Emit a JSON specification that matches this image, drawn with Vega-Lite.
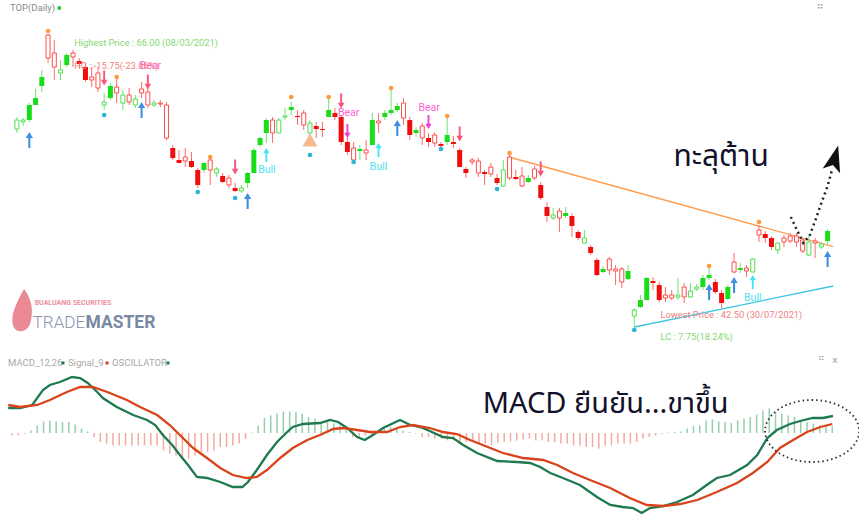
{
"$schema": "https://vega.github.io/schema/vega-lite/v6.json",
"padding": 0,
"spacing": 0,
"background": "white",
"config": {"view": {"stroke": null}, "axis": {"disable": true}},
"datasets": {
"candles": [
{"i":0,"h":59.36,"l":58.08,"t":59.12,"b":58.40,"d":"u","f":0},
{"i":1,"h":59.28,"l":58.64,"t":59.12,"b":58.96,"d":"u","f":0},
{"i":2,"h":60.48,"l":58.96,"t":60.32,"b":59.12,"d":"u","f":1},
{"i":3,"h":61.60,"l":60.32,"t":60.88,"b":60.32,"d":"u","f":1},
{"i":4,"h":63.12,"l":61.36,"t":62.56,"b":61.84,"d":"u","f":1},
{"i":5,"h":66.00,"l":63.68,"t":65.92,"b":64.08,"d":"d","f":0},
{"i":6,"h":65.52,"l":62.32,"t":64.48,"b":63.36,"d":"d","f":0},
{"i":7,"h":63.92,"l":62.32,"t":63.12,"b":62.88,"d":"u","f":0},
{"i":8,"h":64.48,"l":63.36,"t":64.32,"b":63.52,"d":"u","f":1},
{"i":9,"h":64.72,"l":63.36,"t":64.48,"b":64.16,"d":"d","f":0},
{"i":10,"h":64.08,"l":63.28,"t":63.84,"b":63.60,"d":"d","f":1},
{"i":11,"h":63.68,"l":62.16,"t":63.36,"b":62.32,"d":"d","f":1},
{"i":12,"h":63.36,"l":61.76,"t":62.56,"b":62.32,"d":"d","f":0},
{"i":13,"h":63.36,"l":61.36,"t":62.88,"b":61.68,"d":"d","f":0},
{"i":14,"h":61.28,"l":59.92,"t":60.56,"b":60.32,"d":"u","f":0},
{"i":15,"h":62.08,"l":60.72,"t":61.84,"b":60.88,"d":"u","f":1},
{"i":16,"h":62.72,"l":60.48,"t":61.76,"b":61.28,"d":"d","f":0},
{"i":17,"h":61.52,"l":59.92,"t":61.12,"b":60.48,"d":"u","f":0},
{"i":18,"h":61.68,"l":60.32,"t":61.12,"b":60.56,"d":"d","f":0},
{"i":19,"h":61.12,"l":60.08,"t":60.80,"b":60.32,"d":"u","f":0},
{"i":20,"h":62.16,"l":60.88,"t":61.60,"b":61.28,"d":"d","f":0},
{"i":21,"h":61.68,"l":60.08,"t":61.36,"b":60.32,"d":"d","f":0},
{"i":22,"h":60.72,"l":60.16,"t":60.48,"b":60.32,"d":"u","f":0},
{"i":23,"h":60.72,"l":60.16,"t":60.48,"b":60.40,"d":"d","f":0},
{"i":24,"h":60.56,"l":57.52,"t":60.32,"b":57.68,"d":"d","f":0},
{"i":25,"h":57.12,"l":55.92,"t":56.88,"b":56.08,"d":"d","f":1},
{"i":26,"h":56.72,"l":55.68,"t":55.92,"b":55.68,"d":"d","f":1},
{"i":27,"h":56.88,"l":55.36,"t":56.16,"b":55.84,"d":"d","f":0},
{"i":28,"h":56.56,"l":55.28,"t":55.84,"b":55.36,"d":"d","f":1},
{"i":29,"h":55.28,"l":53.68,"t":55.12,"b":53.92,"d":"d","f":1},
{"i":30,"h":55.76,"l":54.88,"t":55.68,"b":55.12,"d":"u","f":1},
{"i":31,"h":56.16,"l":53.92,"t":55.92,"b":55.12,"d":"d","f":0},
{"i":32,"h":55.36,"l":54.56,"t":55.20,"b":54.88,"d":"u","f":0},
{"i":33,"h":54.88,"l":54.08,"t":54.64,"b":54.16,"d":"d","f":1},
{"i":34,"h":54.72,"l":53.68,"t":54.48,"b":53.92,"d":"d","f":0},
{"i":35,"h":54.08,"l":53.36,"t":53.68,"b":53.44,"d":"d","f":1},
{"i":36,"h":53.92,"l":53.28,"t":53.68,"b":53.44,"d":"u","f":0},
{"i":37,"h":54.96,"l":53.68,"t":54.88,"b":54.08,"d":"u","f":1},
{"i":38,"h":56.88,"l":54.88,"t":56.72,"b":54.88,"d":"u","f":1},
{"i":39,"h":57.76,"l":56.96,"t":57.68,"b":57.12,"d":"u","f":1},
{"i":40,"h":59.28,"l":57.28,"t":59.12,"b":58.08,"d":"u","f":1},
{"i":41,"h":59.36,"l":57.28,"t":59.12,"b":58.08,"d":"d","f":0},
{"i":42,"h":59.28,"l":58.08,"t":59.12,"b":58.08,"d":"u","f":0},
{"i":43,"h":60.08,"l":59.12,"t":59.44,"b":59.36,"d":"u","f":0},
{"i":44,"h":60.56,"l":59.52,"t":60.16,"b":59.92,"d":"u","f":1},
{"i":45,"h":59.92,"l":58.72,"t":59.44,"b":59.36,"d":"d","f":1},
{"i":46,"h":59.92,"l":58.32,"t":59.68,"b":58.72,"d":"d","f":0},
{"i":47,"h":59.12,"l":57.36,"t":58.88,"b":58.08,"d":"u","f":0},
{"i":48,"h":58.96,"l":57.68,"t":58.64,"b":58.40,"d":"d","f":1},
{"i":49,"h":58.96,"l":57.76,"t":58.40,"b":58.32,"d":"d","f":1},
{"i":50,"h":60.88,"l":59.36,"t":59.92,"b":59.36,"d":"u","f":1},
{"i":51,"h":60.08,"l":59.12,"t":59.68,"b":59.36,"d":"d","f":1},
{"i":52,"h":59.52,"l":57.12,"t":59.36,"b":57.36,"d":"d","f":1},
{"i":53,"h":57.68,"l":56.32,"t":57.36,"b":56.56,"d":"d","f":1},
{"i":54,"h":57.36,"l":55.68,"t":56.88,"b":55.92,"d":"d","f":0},
{"i":55,"h":57.12,"l":55.92,"t":56.80,"b":56.64,"d":"u","f":1},
{"i":56,"h":57.52,"l":55.92,"t":56.72,"b":56.48,"d":"d","f":0},
{"i":57,"h":59.68,"l":57.12,"t":59.12,"b":57.12,"d":"u","f":1},
{"i":58,"h":59.68,"l":58.08,"t":59.04,"b":58.88,"d":"d","f":0},
{"i":59,"h":59.92,"l":59.12,"t":59.68,"b":59.36,"d":"u","f":1},
{"i":60,"h":61.52,"l":59.52,"t":59.92,"b":59.68,"d":"u","f":1},
{"i":61,"h":60.48,"l":59.76,"t":60.24,"b":59.92,"d":"u","f":1},
{"i":62,"h":60.88,"l":58.72,"t":60.48,"b":59.28,"d":"d","f":0},
{"i":63,"h":59.36,"l":57.52,"t":59.12,"b":57.92,"d":"d","f":1},
{"i":64,"h":58.56,"l":57.76,"t":58.32,"b":58.08,"d":"u","f":1},
{"i":65,"h":58.88,"l":57.12,"t":58.64,"b":57.68,"d":"d","f":0},
{"i":66,"h":58.08,"l":56.96,"t":57.68,"b":57.36,"d":"d","f":1},
{"i":67,"h":58.16,"l":56.96,"t":57.92,"b":57.28,"d":"d","f":0},
{"i":68,"h":57.36,"l":56.72,"t":57.20,"b":57.04,"d":"d","f":1},
{"i":69,"h":59.36,"l":57.12,"t":57.92,"b":57.36,"d":"u","f":1},
{"i":70,"h":57.84,"l":56.88,"t":57.36,"b":57.20,"d":"d","f":1},
{"i":71,"h":56.88,"l":55.36,"t":56.72,"b":55.36,"d":"d","f":1},
{"i":72,"h":55.36,"l":54.48,"t":55.20,"b":54.88,"d":"d","f":1},
{"i":73,"h":56.08,"l":55.52,"t":55.92,"b":55.76,"d":"d","f":0},
{"i":74,"h":56.08,"l":54.56,"t":55.84,"b":54.88,"d":"d","f":0},
{"i":75,"h":55.12,"l":53.92,"t":54.96,"b":54.80,"d":"d","f":1},
{"i":76,"h":55.68,"l":54.56,"t":55.36,"b":54.80,"d":"d","f":0},
{"i":77,"h":54.80,"l":53.92,"t":54.48,"b":54.08,"d":"d","f":1},
{"i":78,"h":55.92,"l":53.76,"t":55.12,"b":53.84,"d":"u","f":0},
{"i":79,"h":56.32,"l":54.32,"t":56.16,"b":54.48,"d":"d","f":0},
{"i":80,"h":55.12,"l":54.32,"t":54.56,"b":54.40,"d":"d","f":1},
{"i":81,"h":55.36,"l":53.76,"t":54.64,"b":53.84,"d":"d","f":0},
{"i":82,"h":54.72,"l":54.08,"t":54.48,"b":54.16,"d":"u","f":1},
{"i":83,"h":55.44,"l":54.32,"t":55.20,"b":54.48,"d":"d","f":0},
{"i":84,"h":54.16,"l":52.72,"t":53.92,"b":52.88,"d":"d","f":1},
{"i":85,"h":52.56,"l":50.96,"t":52.16,"b":51.44,"d":"d","f":1},
{"i":86,"h":52.08,"l":51.12,"t":51.52,"b":51.28,"d":"u","f":0},
{"i":87,"h":52.08,"l":50.16,"t":51.84,"b":51.28,"d":"d","f":0},
{"i":88,"h":52.16,"l":51.28,"t":51.68,"b":51.44,"d":"u","f":1},
{"i":89,"h":51.68,"l":49.76,"t":51.44,"b":50.64,"d":"d","f":1},
{"i":90,"h":50.32,"l":49.52,"t":50.16,"b":49.68,"d":"d","f":1},
{"i":91,"h":50.32,"l":49.28,"t":49.68,"b":49.28,"d":"u","f":0},
{"i":92,"h":49.12,"l":48.32,"t":48.96,"b":48.48,"d":"d","f":1},
{"i":93,"h":48.08,"l":46.64,"t":47.92,"b":46.72,"d":"d","f":1},
{"i":94,"h":47.44,"l":46.88,"t":47.20,"b":46.96,"d":"u","f":1},
{"i":95,"h":48.16,"l":46.72,"t":48.00,"b":47.12,"d":"d","f":0},
{"i":96,"h":47.52,"l":45.92,"t":47.20,"b":47.04,"d":"d","f":0},
{"i":97,"h":47.36,"l":45.68,"t":47.20,"b":46.16,"d":"d","f":0},
{"i":98,"h":47.52,"l":46.32,"t":47.04,"b":46.40,"d":"u","f":1},
{"i":99,"h":44.08,"l":42.50,"t":43.92,"b":43.44,"d":"u","f":0},
{"i":100,"h":45.12,"l":44.08,"t":44.72,"b":44.16,"d":"u","f":1},
{"i":101,"h":46.56,"l":44.72,"t":46.48,"b":44.72,"d":"u","f":1},
{"i":102,"h":46.56,"l":45.52,"t":46.24,"b":46.08,"d":"d","f":1},
{"i":103,"h":46.16,"l":44.56,"t":45.92,"b":44.72,"d":"d","f":1},
{"i":104,"h":45.76,"l":44.56,"t":45.12,"b":44.88,"d":"d","f":0},
{"i":105,"h":45.52,"l":44.72,"t":45.12,"b":44.88,"d":"d","f":0},
{"i":106,"h":46.48,"l":44.72,"t":45.12,"b":44.96,"d":"u","f":0},
{"i":107,"h":46.08,"l":44.48,"t":45.76,"b":44.96,"d":"d","f":0},
{"i":108,"h":46.08,"l":44.88,"t":45.44,"b":44.96,"d":"u","f":0},
{"i":109,"h":46.00,"l":45.44,"t":45.76,"b":45.60,"d":"u","f":0},
{"i":110,"h":46.72,"l":45.52,"t":46.48,"b":45.76,"d":"u","f":1},
{"i":111,"h":47.28,"l":46.32,"t":46.72,"b":46.48,"d":"u","f":1},
{"i":112,"h":46.40,"l":45.20,"t":46.16,"b":45.36,"d":"d","f":1},
{"i":113,"h":45.52,"l":44.08,"t":45.28,"b":44.48,"d":"d","f":1},
{"i":114,"h":45.92,"l":44.72,"t":45.76,"b":44.80,"d":"u","f":1},
{"i":115,"h":48.48,"l":46.88,"t":47.76,"b":46.96,"d":"d","f":0},
{"i":116,"h":47.68,"l":46.88,"t":47.28,"b":47.12,"d":"u","f":1},
{"i":117,"h":47.52,"l":46.56,"t":47.28,"b":47.04,"d":"d","f":0},
{"i":118,"h":48.08,"l":46.96,"t":48.00,"b":46.96,"d":"u","f":0},
{"i":119,"h":50.72,"l":49.36,"t":50.32,"b":49.92,"d":"d","f":0},
{"i":120,"h":50.24,"l":49.28,"t":50.00,"b":49.68,"d":"d","f":1},
{"i":121,"h":49.84,"l":48.72,"t":49.68,"b":48.96,"d":"d","f":1},
{"i":122,"h":49.36,"l":48.40,"t":49.28,"b":48.72,"d":"u","f":0},
{"i":123,"h":49.92,"l":48.96,"t":49.68,"b":49.36,"d":"d","f":0},
{"i":124,"h":50.08,"l":49.28,"t":49.84,"b":49.44,"d":"d","f":0},
{"i":125,"h":50.08,"l":48.96,"t":49.84,"b":49.36,"d":"d","f":0},
{"i":126,"h":49.68,"l":48.48,"t":49.52,"b":48.64,"d":"d","f":0},
{"i":127,"h":49.92,"l":48.24,"t":49.36,"b":48.32,"d":"u","f":0},
{"i":128,"h":49.68,"l":48.08,"t":49.44,"b":49.28,"d":"d","f":0},
{"i":129,"h":49.36,"l":48.80,"t":49.20,"b":48.96,"d":"u","f":0},
{"i":130,"h":50.40,"l":49.20,"t":50.24,"b":49.44,"d":"u","f":1}
],
"signals": [
{"i":5,"p":66.24,"k":"hi"},{"i":16,"p":62.56,"k":"hi"},{"i":31,"p":56.16,"k":"hi"},{"i":44,"p":60.96,"k":"hi"},{"i":50,"p":60.96,"k":"hi"},{"i":60,"p":61.68,"k":"hi"},{"i":69,"p":59.44,"k":"hi"},{"i":79,"p":56.48,"k":"hi"},{"i":111,"p":47.44,"k":"hi"},{"i":119,"p":50.96,"k":"hi"},
{"i":14,"p":59.52,"k":"lo"},{"i":29,"p":53.36,"k":"lo"},{"i":35,"p":52.88,"k":"lo"},{"i":47,"p":56.32,"k":"lo"},{"i":54,"p":55.76,"k":"lo"},{"i":68,"p":56.80,"k":"lo"},{"i":77,"p":53.60,"k":"lo"},{"i":99,"p":42.32,"k":"lo"},
{"i":47,"p":57.52,"k":"tri"},
{"i":2,"p":57.52,"k":"buy"},{"i":20,"p":59.92,"k":"buy"},{"i":37,"p":52.64,"k":"buy"},{"i":61,"p":58.48,"k":"buy"},{"i":111,"p":45.36,"k":"buy"},{"i":115,"p":45.92,"k":"buy"},{"i":130,"p":48.00,"k":"buy"},
{"i":40,"p":56.32,"k":"bull"},{"i":58,"p":56.72,"k":"bull"},{"i":118,"p":46.16,"k":"bull"},
{"i":14,"p":62.48,"k":"sell"},{"i":21,"p":62.16,"k":"sell"},{"i":35,"p":55.36,"k":"sell"},{"i":52,"p":60.64,"k":"sell"},{"i":71,"p":58.00,"k":"sell"},{"i":84,"p":55.20,"k":"sell"},
{"i":53,"p":58.24,"k":"bear"},{"i":66,"p":58.96,"k":"bear"}
],
"macd": [{"i":-0.6,"v":1.25},{"i":1.3,"v":1.25},{"i":3.2,"v":1.4},{"i":4.9,"v":2.15},{"i":6.0,"v":2.4},{"i":7.6,"v":2.55},{"i":9.5,"v":2.8},{"i":10.8,"v":2.75},{"i":12.0,"v":2.5},{"i":13.5,"v":2.05},{"i":14.4,"v":1.75},{"i":16.6,"v":1.3},{"i":19.2,"v":0.9},{"i":21.4,"v":0.65},{"i":22.7,"v":0.4},{"i":23.9,"v":-0.1},{"i":25.4,"v":-0.6},{"i":26.6,"v":-1.1},{"i":27.9,"v":-1.6},{"i":29.3,"v":-2.2},{"i":30.9,"v":-2.25},{"i":33.0,"v":-2.45},{"i":35.0,"v":-2.7},{"i":36.5,"v":-2.7},{"i":37.4,"v":-2.45},{"i":38.8,"v":-1.85},{"i":40.4,"v":-1.1},{"i":42.0,"v":-0.45},{"i":43.6,"v":0.05},{"i":44.5,"v":0.3},{"i":46.1,"v":0.45},{"i":48.8,"v":0.5},{"i":50.4,"v":0.65},{"i":51.7,"v":0.55},{"i":53.1,"v":0.25},{"i":54.7,"v":-0.2},{"i":55.9,"v":-0.35},{"i":57.2,"v":-0.1},{"i":58.8,"v":0.25},{"i":61.5,"v":0.65},{"i":63.1,"v":0.4},{"i":64.7,"v":0.3},{"i":66.2,"v":0.1},{"i":68.3,"v":-0.2},{"i":69.9,"v":-0.25},{"i":71.5,"v":-0.6},{"i":73.7,"v":-1.0},{"i":76.9,"v":-1.4},{"i":80.0,"v":-1.45},{"i":82.1,"v":-1.5},{"i":83.7,"v":-1.7},{"i":85.3,"v":-2.0},{"i":87.3,"v":-2.25},{"i":90.0,"v":-2.6},{"i":92.7,"v":-3.2},{"i":94.8,"v":-3.6},{"i":96.8,"v":-3.7},{"i":98.4,"v":-3.75},{"i":99.8,"v":-4.0},{"i":101.1,"v":-3.75},{"i":103.2,"v":-3.65},{"i":105.4,"v":-3.45},{"i":107.9,"v":-3.1},{"i":110.1,"v":-2.6},{"i":111.7,"v":-2.25},{"i":113.8,"v":-2.1},{"i":116.5,"v":-1.6},{"i":118.1,"v":-1.1},{"i":119.7,"v":-0.25},{"i":121.2,"v":0.15},{"i":123.3,"v":0.45},{"i":124.9,"v":0.6},{"i":126.9,"v":0.75},{"i":128.5,"v":0.75},{"i":130.1,"v":0.85}],
"signal": [{"i":-0.6,"v":1.4},{"i":1.3,"v":1.3},{"i":4.0,"v":1.4},{"i":6.0,"v":1.65},{"i":8.7,"v":2.05},{"i":10.8,"v":2.3},{"i":12.8,"v":2.3},{"i":15.1,"v":2.05},{"i":18.2,"v":1.65},{"i":20.3,"v":1.3},{"i":23.0,"v":0.9},{"i":25.0,"v":0.4},{"i":26.6,"v":-0.1},{"i":28.7,"v":-0.75},{"i":30.9,"v":-1.25},{"i":33.0,"v":-1.75},{"i":35.0,"v":-2.1},{"i":37.2,"v":-2.25},{"i":38.8,"v":-2.2},{"i":40.4,"v":-1.85},{"i":42.5,"v":-1.25},{"i":44.5,"v":-0.75},{"i":46.8,"v":-0.35},{"i":48.8,"v":-0.1},{"i":50.9,"v":0.2},{"i":52.5,"v":0.25},{"i":54.7,"v":0.15},{"i":56.7,"v":0.05},{"i":59.4,"v":0.05},{"i":61.5,"v":0.3},{"i":63.5,"v":0.4},{"i":66.2,"v":0.25},{"i":68.3,"v":0.05},{"i":70.5,"v":-0.05},{"i":72.6,"v":-0.35},{"i":74.6,"v":-0.6},{"i":77.8,"v":-1.0},{"i":81.0,"v":-1.25},{"i":84.2,"v":-1.35},{"i":86.4,"v":-1.6},{"i":88.9,"v":-2.0},{"i":91.6,"v":-2.35},{"i":94.8,"v":-2.75},{"i":97.9,"v":-3.25},{"i":100.6,"v":-3.6},{"i":103.2,"v":-3.65},{"i":105.9,"v":-3.55},{"i":108.6,"v":-3.35},{"i":111.7,"v":-2.95},{"i":114.9,"v":-2.5},{"i":117.4,"v":-2.0},{"i":119.7,"v":-1.45},{"i":121.7,"v":-0.75},{"i":123.8,"v":-0.35},{"i":126.0,"v":0.05},{"i":128.1,"v":0.3},{"i":130.0,"v":0.45}],
"osc": [{"i":0,"v":-0.12},{"i":1,"v":-0.12},{"i":2,"v":-0.05},{"i":3,"v":0.13},{"i":4,"v":0.38},{"i":5,"v":0.58},{"i":6,"v":0.63},{"i":7,"v":0.58},{"i":8,"v":0.55},{"i":9,"v":0.55},{"i":10,"v":0.43},{"i":11,"v":0.22},{"i":12,"v":0.08},{"i":13,"v":-0.2},{"i":14,"v":-0.45},{"i":15,"v":-0.53},{"i":16,"v":-0.62},{"i":17,"v":-0.62},{"i":18,"v":-0.62},{"i":19,"v":-0.62},{"i":20,"v":-0.62},{"i":21,"v":-0.62},{"i":22,"v":-0.62},{"i":23,"v":-0.62},{"i":24,"v":-0.87},{"i":25,"v":-1.03},{"i":26,"v":-1.12},{"i":27,"v":-1.28},{"i":28,"v":-1.28},{"i":29,"v":-1.12},{"i":30,"v":-0.95},{"i":31,"v":-0.95},{"i":32,"v":-0.87},{"i":33,"v":-0.7},{"i":34,"v":-0.7},{"i":35,"v":-0.62},{"i":36,"v":-0.53},{"i":37,"v":-0.28},{"i":38,"v":0.03},{"i":39,"v":0.38},{"i":40,"v":0.75},{"i":41,"v":0.88},{"i":42,"v":0.97},{"i":43,"v":1.08},{"i":44,"v":1.08},{"i":45,"v":1.05},{"i":46,"v":0.97},{"i":47,"v":0.8},{"i":48,"v":0.72},{"i":49,"v":0.55},{"i":50,"v":0.55},{"i":51,"v":0.47},{"i":52,"v":0.38},{"i":53,"v":0.25},{"i":54,"v":-0.2},{"i":55,"v":-0.2},{"i":56,"v":-0.12},{"i":57,"v":-0.08},{"i":58,"v":0.08},{"i":59,"v":0.22},{"i":60,"v":0.3},{"i":61,"v":0.3},{"i":62,"v":0.13},{"i":63,"v":0.05},{"i":64,"v":-0.03},{"i":65,"v":-0.2},{"i":66,"v":-0.2},{"i":67,"v":-0.28},{"i":68,"v":-0.28},{"i":69,"v":-0.37},{"i":70,"v":-0.37},{"i":71,"v":-0.45},{"i":72,"v":-0.45},{"i":73,"v":-0.45},{"i":74,"v":-0.53},{"i":75,"v":-0.53},{"i":76,"v":-0.62},{"i":77,"v":-0.48},{"i":78,"v":-0.45},{"i":79,"v":-0.42},{"i":80,"v":-0.37},{"i":81,"v":-0.32},{"i":82,"v":-0.28},{"i":83,"v":-0.37},{"i":84,"v":-0.37},{"i":85,"v":-0.45},{"i":86,"v":-0.45},{"i":87,"v":-0.53},{"i":88,"v":-0.53},{"i":89,"v":-0.62},{"i":90,"v":-0.62},{"i":91,"v":-0.7},{"i":92,"v":-0.7},{"i":93,"v":-0.78},{"i":94,"v":-0.62},{"i":95,"v":-0.62},{"i":96,"v":-0.53},{"i":97,"v":-0.53},{"i":98,"v":-0.53},{"i":99,"v":-0.45},{"i":100,"v":-0.28},{"i":101,"v":-0.2},{"i":102,"v":-0.12},{"i":103,"v":-0.05},{"i":104,"v":0.02},{"i":105,"v":0.05},{"i":106,"v":0.08},{"i":107,"v":0.22},{"i":108,"v":0.35},{"i":109,"v":0.38},{"i":110,"v":0.63},{"i":111,"v":0.68},{"i":112,"v":0.58},{"i":113,"v":0.55},{"i":114,"v":0.5},{"i":115,"v":0.63},{"i":116,"v":0.72},{"i":117,"v":0.8},{"i":118,"v":0.92},{"i":119,"v":1.13},{"i":120,"v":1.22},{"i":121,"v":1.05},{"i":122,"v":0.97},{"i":123,"v":0.88},{"i":124,"v":0.8},{"i":125,"v":0.63},{"i":126,"v":0.55},{"i":127,"v":0.47},{"i":128,"v":0.38},{"i":129,"v":0.38},{"i":130,"v":0.35}]
},
"vconcat": [
{
"width": 859, "height": 350,
"layer": [
{"mark": {"type": "rule", "color": "#b3b3b3", "strokeWidth": 2},
 "encoding": {"x": {"datum": -0.63, "type": "quantitative", "scale": {"domain": [-1.902, 134.23], "nice": false, "zero": false}}, "x2": {"datum": 130.7}, "y": {"datum": 40.84, "type": "quantitative", "scale": {"domain": [40.72, 68.72], "nice": false, "zero": false}}}},
{"data": {"values": [{"i": 78.9, "p": 56.16}, {"i": 130.9, "p": 48.99}]},
 "mark": {"type": "line", "color": "#ff9d4d", "strokeWidth": 1.3},
 "encoding": {"x": {"field": "i", "type": "quantitative"}, "y": {"field": "p", "type": "quantitative"}}},
{"data": {"values": [{"i": 99.05, "p": 42.56}, {"i": 130.9, "p": 45.84}]},
 "mark": {"type": "line", "color": "#3cc6e2", "strokeWidth": 1.3},
 "encoding": {"x": {"field": "i", "type": "quantitative"}, "y": {"field": "p", "type": "quantitative"}}},
{"data": {"name": "candles"},
 "mark": {"type": "rule", "strokeWidth": 1},
 "encoding": {"x": {"field": "i", "type": "quantitative"}, "y": {"field": "h", "type": "quantitative"}, "y2": {"field": "l"},
  "stroke": {"condition": {"test": "datum.d === 'u'", "value": "#6ee46e"}, "value": "#ff6b6b"}}},
{"data": {"name": "candles"},
 "transform": [{"filter": "datum.f === 1"}],
 "mark": {"type": "bar", "size": 5, "strokeWidth": 0},
 "encoding": {"x": {"field": "i", "type": "quantitative"}, "y": {"field": "t", "type": "quantitative"}, "y2": {"field": "b"},
  "fill": {"condition": {"test": "datum.d === 'u'", "value": "#19dd19"}, "value": "#f20d0d"}}},
{"data": {"name": "candles"},
 "transform": [{"filter": "datum.f === 0"}],
 "mark": {"type": "bar", "size": 4, "strokeWidth": 1, "fill": "white"},
 "encoding": {"x": {"field": "i", "type": "quantitative"}, "y": {"field": "t", "type": "quantitative"}, "y2": {"field": "b"},
  "stroke": {"condition": {"test": "datum.d === 'u'", "value": "#4ede4e"}, "value": "#ff4d4d"}}},
{"data": {"name": "signals"}, "transform": [{"filter": "datum.k === 'hi'"}],
 "mark": {"type": "point", "filled": true, "opacity": 1, "color": "#ff9a3c", "size": 22},
 "encoding": {"x": {"field": "i", "type": "quantitative"}, "y": {"field": "p", "type": "quantitative"}}},
{"data": {"name": "signals"}, "transform": [{"filter": "datum.k === 'lo'"}],
 "mark": {"type": "point", "filled": true, "opacity": 1, "color": "#2bb5d8", "size": 22},
 "encoding": {"x": {"field": "i", "type": "quantitative"}, "y": {"field": "p", "type": "quantitative"}}},
{"data": {"name": "signals"}, "transform": [{"filter": "datum.k === 'tri'"}],
 "mark": {"type": "point", "shape": "triangle-up", "filled": true, "opacity": 1, "color": "#f6b88e", "size": 230},
 "encoding": {"x": {"field": "i", "type": "quantitative"}, "y": {"field": "p", "type": "quantitative"}}},
{"data": {"name": "signals"}, "transform": [{"filter": "datum.k === 'buy'"}],
 "mark": {"type": "point", "shape": "M0,-1L0.45,-0.25L0.13,-0.25L0.13,1L-0.13,1L-0.13,-0.25L-0.45,-0.25Z", "filled": true, "opacity": 1, "color": "#3d8fe0", "size": 260},
 "encoding": {"x": {"field": "i", "type": "quantitative"}, "y": {"field": "p", "type": "quantitative"}}},
{"data": {"name": "signals"}, "transform": [{"filter": "datum.k === 'bull'"}],
 "mark": {"type": "point", "shape": "M0,-1L0.45,-0.25L0.13,-0.25L0.13,1L-0.13,1L-0.13,-0.25L-0.45,-0.25Z", "filled": true, "opacity": 1, "color": "#46e4f2", "size": 200},
 "encoding": {"x": {"field": "i", "type": "quantitative"}, "y": {"field": "p", "type": "quantitative"}}},
{"data": {"name": "signals"}, "transform": [{"filter": "datum.k === 'sell'"}],
 "mark": {"type": "point", "shape": "M0,1L0.45,0.25L0.13,0.25L0.13,-1L-0.13,-1L-0.13,0.25L-0.45,0.25Z", "filled": true, "opacity": 1, "color": "#f4587c", "size": 220},
 "encoding": {"x": {"field": "i", "type": "quantitative"}, "y": {"field": "p", "type": "quantitative"}}},
{"data": {"name": "signals"}, "transform": [{"filter": "datum.k === 'bear'"}],
 "mark": {"type": "point", "shape": "M0,1L0.45,0.25L0.13,0.25L0.13,-1L-0.13,-1L-0.13,0.25L-0.45,0.25Z", "filled": true, "opacity": 1, "color": "#ee3fd0", "size": 200},
 "encoding": {"x": {"field": "i", "type": "quantitative"}, "y": {"field": "p", "type": "quantitative"}}},
{"data": {"values": [{"i": 21.4, "p": 63.44, "s": "Bear"}, {"i": 53.2, "p": 59.68, "s": "Bear"}, {"i": 66.1, "p": 60.1, "s": "Bear"}]},
 "mark": {"type": "text", "font": "Liberation Sans Narrow, Roboto", "fontSize": 10.5, "color": "#ff5fd8", "align": "center", "baseline": "middle"},
 "encoding": {"x": {"field": "i", "type": "quantitative"}, "y": {"field": "p", "type": "quantitative"}, "text": {"field": "s"}}},
{"data": {"values": [{"i": 40.1, "p": 55.12, "s": "Bull"}, {"i": 58, "p": 55.4, "s": "Bull"}, {"i": 118, "p": 44.88, "s": "Bull"}]},
 "mark": {"type": "text", "font": "Liberation Sans Narrow, Roboto", "fontSize": 10.5, "color": "#4fe2f0", "align": "center", "baseline": "middle"},
 "encoding": {"x": {"field": "i", "type": "quantitative"}, "y": {"field": "p", "type": "quantitative"}, "text": {"field": "s"}}},
{"data": {"values": [{"i": 9.19, "p": 65.28, "s": "Highest Price : 66.00 (08/03/2021)"}, {"i": 103.2, "p": 41.76, "s": "LC : 7.75(18.24%)"}]},
 "mark": {"type": "text", "font": "Liberation Sans Narrow, Roboto", "fontSize": 9.3, "color": "#86d96e", "align": "left", "baseline": "middle"},
 "encoding": {"x": {"field": "i", "type": "quantitative"}, "y": {"field": "p", "type": "quantitative"}, "text": {"field": "s"}}},
{"data": {"values": [{"i": 9.19, "p": 63.44, "s": "HC : -15.75(-23.86%)"}, {"i": 103.2, "p": 43.52, "s": "Lowest Price : 42.50 (30/07/2021)"}]},
 "mark": {"type": "text", "font": "Liberation Sans Narrow, Roboto", "fontSize": 9.3, "color": "#f07f7f", "align": "left", "baseline": "middle"},
 "encoding": {"x": {"field": "i", "type": "quantitative"}, "y": {"field": "p", "type": "quantitative"}, "text": {"field": "s"}}},
{"data": {"values": [{"i": 105.3, "p": 55.44, "s": "ทะลุต้าน"}]},
 "mark": {"type": "text", "font": "Noto Sans Thai, Noto Sans, DejaVu Sans, sans-serif", "fontSize": 30, "color": "#11112b", "align": "left", "baseline": "alphabetic"},
 "encoding": {"x": {"field": "i", "type": "quantitative"}, "y": {"field": "p", "type": "quantitative"}, "text": {"field": "s"}}},
{"data": {"values": [{"i": 124.1, "p": 51.36}, {"i": 125.0, "p": 50.4}, {"i": 126.1, "p": 49.28}, {"i": 127.1, "p": 49.84}, {"i": 128.05, "p": 51.12}, {"i": 129.0, "p": 52.48}, {"i": 130.0, "p": 53.84}, {"i": 130.7, "p": 55.12}]},
 "mark": {"type": "line", "color": "#222222", "strokeWidth": 2.5, "strokeDash": [2, 3.5]},
 "encoding": {"x": {"field": "i", "type": "quantitative"}, "y": {"field": "p", "type": "quantitative"}}},
{"data": {"values": [{"i": 131.07, "p": 55.92}]},
 "mark": {"type": "point", "shape": "M0,-1L0.6,0.75L0,0.35L-0.6,0.75Z", "filled": true, "opacity": 1, "color": "#111111", "size": 900, "angle": 15},
 "encoding": {"x": {"field": "i", "type": "quantitative"}, "y": {"field": "p", "type": "quantitative"}}},
{"data": {"values": [{"i": 0.79, "p": 43.76}]},
 "mark": {"type": "point", "shape": "M0.1,-1C0.5,-0.5,0.5,0.1,0.35,0.55C0.2,0.9,-0.25,0.95,-0.38,0.6C-0.5,0.2,-0.3,-0.3,0.1,-1Z", "filled": true, "opacity": 1, "color": "#eb8995", "size": 2100},
 "encoding": {"x": {"field": "i", "type": "quantitative"}, "y": {"field": "p", "type": "quantitative"}}},
{"data": {"values": [{"i": 2.85, "p": 44.32, "s": "BUALUANG SECURITIES"}]},
 "mark": {"type": "text", "font": "Roboto", "fontSize": 7, "fontWeight": "bold", "color": "#ec8f9b", "align": "left", "baseline": "alphabetic"},
 "encoding": {"x": {"field": "i", "type": "quantitative"}, "y": {"field": "p", "type": "quantitative"}, "text": {"field": "s"}}},
{"data": {"values": [{"i": 2.54, "p": 42.48, "s": "TRADE"}]},
 "mark": {"type": "text", "font": "Roboto", "fontSize": 17, "fontWeight": 300, "color": "#8794ab", "align": "left", "baseline": "alphabetic"},
 "encoding": {"x": {"field": "i", "type": "quantitative"}, "y": {"field": "p", "type": "quantitative"}, "text": {"field": "s"}}},
{"data": {"values": [{"i": 11.0, "p": 42.48, "s": "MASTER"}]},
 "mark": {"type": "text", "font": "Liberation Sans Narrow, Roboto", "fontSize": 17.5, "fontWeight": "bold", "color": "#7a89a3", "align": "left", "baseline": "alphabetic"},
 "encoding": {"x": {"field": "i", "type": "quantitative"}, "y": {"field": "p", "type": "quantitative"}, "text": {"field": "s"}}},
{"data": {"values": [{"i": -1.1, "p": 68.08, "s": "TOP(Daily)"}]},
 "mark": {"type": "text", "font": "Roboto", "fontSize": 9.5, "color": "#8c8c8c", "align": "left", "baseline": "middle"},
 "encoding": {"x": {"field": "i", "type": "quantitative"}, "y": {"field": "p", "type": "quantitative"}, "text": {"field": "s"}}},
{"data": {"values": [{"i": 6.8, "p": 68.08}]},
 "mark": {"type": "point", "shape": "square", "filled": true, "opacity": 1, "color": "#22cc22", "size": 12},
 "encoding": {"x": {"field": "i", "type": "quantitative"}, "y": {"field": "p", "type": "quantitative"}}},
{"data": {"values": [{"i": 128.8, "p": 68.0, "s": "⠛"}]},
 "mark": {"type": "text", "font": "DejaVu Sans", "fontSize": 10, "color": "#999999", "align": "center", "baseline": "middle"},
 "encoding": {"x": {"field": "i", "type": "quantitative"}, "y": {"field": "p", "type": "quantitative"}, "text": {"field": "s"}}}
]
},
{
"width": 859, "height": 169,
"layer": [
{"mark": {"type": "rule", "color": "#c8c8c8", "strokeWidth": 1.5},
 "encoding": {"x": {"datum": -0.63, "type": "quantitative", "scale": {"domain": [-1.902, 134.23], "nice": false, "zero": false}}, "x2": {"datum": 130.8}, "y": {"datum": 0, "type": "quantitative", "scale": {"domain": [-4.3, 4.15], "nice": false, "zero": false}}}},
{"data": {"name": "osc"},
 "mark": {"type": "rule", "strokeWidth": 1.5},
 "encoding": {"x": {"field": "i", "type": "quantitative"}, "y": {"field": "v", "type": "quantitative"}, "y2": {"datum": 0},
  "stroke": {"condition": {"test": "datum.v >= 0", "value": "#93cfae"}, "value": "#f3ab9b"}}},
{"data": {"name": "macd"},
 "mark": {"type": "line", "color": "#1d7a4e", "strokeWidth": 2.3},
 "encoding": {"x": {"field": "i", "type": "quantitative"}, "y": {"field": "v", "type": "quantitative"}}},
{"data": {"name": "signal"},
 "mark": {"type": "line", "color": "#d8431b", "strokeWidth": 2.3},
 "encoding": {"x": {"field": "i", "type": "quantitative"}, "y": {"field": "v", "type": "quantitative"}}},
{"data": {"values": [{"i": -0.63, "v": 3.5, "s": "MACD_12,26"}, {"i": 8.87, "v": 3.5, "s": "Signal_9"}, {"i": 15.85, "v": 3.5, "s": "OSCILLATOR"}]},
 "mark": {"type": "text", "font": "Liberation Sans Narrow, Roboto", "fontSize": 9.5, "color": "#a8a8a8", "align": "left", "baseline": "middle"},
 "encoding": {"x": {"field": "i", "type": "quantitative"}, "y": {"field": "v", "type": "quantitative"}, "text": {"field": "s"}}},
{"data": {"values": [{"i": 8.08, "v": 3.5}, {"i": 24.72, "v": 3.5}]},
 "mark": {"type": "point", "shape": "square", "filled": true, "opacity": 1, "color": "#1d7a4e", "size": 9},
 "encoding": {"x": {"field": "i", "type": "quantitative"}, "y": {"field": "v", "type": "quantitative"}}},
{"data": {"values": [{"i": 15.06, "v": 3.5}]},
 "mark": {"type": "point", "shape": "square", "filled": true, "opacity": 1, "color": "#d8431b", "size": 9},
 "encoding": {"x": {"field": "i", "type": "quantitative"}, "y": {"field": "v", "type": "quantitative"}}},
{"data": {"values": [{"i": 74.6, "v": 1.0, "s": "MACD ยืนยัน...ขาขึ้น"}]},
 "mark": {"type": "text", "font": "Noto Sans Thai, Noto Sans, DejaVu Sans, sans-serif", "fontSize": 29, "color": "#11112b", "align": "left", "baseline": "alphabetic"},
 "encoding": {"x": {"field": "i", "type": "quantitative"}, "y": {"field": "v", "type": "quantitative"}, "text": {"field": "s"}}},
{"data": {"values": [{"i": 126.8, "v": 0.1}]},
 "mark": {"type": "point", "shape": "M-1,0A1,0.66,0,1,0,1,0A1,0.66,0,1,0,-1,0Z", "filled": false, "opacity": 1, "stroke": "#2a2a2a", "strokeWidth": 1.8, "strokeDash": [1.5, 3], "size": 8836, "clip": true},
 "encoding": {"x": {"field": "i", "type": "quantitative"}, "y": {"field": "v", "type": "quantitative"}}},
{"data": {"values": [{"i": 128.3, "v": 3.65, "s": "⠛"}, {"i": 130.4, "v": 3.65, "s": "x"}]},
 "mark": {"type": "text", "font": "DejaVu Sans", "fontSize": 9, "color": "#999999", "align": "center", "baseline": "middle"},
 "encoding": {"x": {"field": "i", "type": "quantitative"}, "y": {"field": "v", "type": "quantitative"}, "text": {"field": "s"}}}
]
}
]
}
